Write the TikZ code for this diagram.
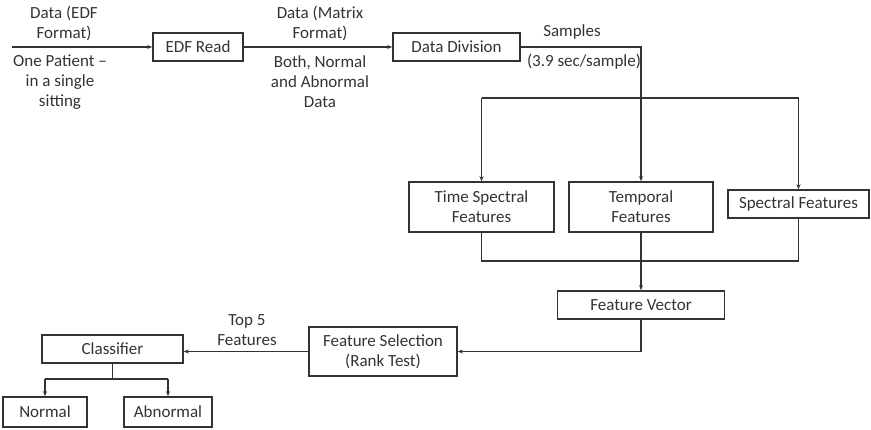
\documentclass[tikz,border=0pt]{standalone}
\usepackage{fontspec}
\setmainfont{Carlito}
\usetikzlibrary{arrows.meta}
\definecolor{ink}{HTML}{333333}
\begin{document}
\begin{tikzpicture}[x=1pt,y=-1pt,
  box/.style={draw=ink, line width=1.6pt, text=ink, inner sep=0pt, align=center,
    font=\fontsize{17}{20}\selectfont},
  lbl/.style={text=ink, inner sep=0pt, align=center, font=\fontsize{17}{20}\selectfont},
  conn/.style={draw=ink, line width=1.1pt},
  arr/.style={conn, -{Stealth[length=5pt,width=4pt]}}]
\useasboundingbox (0,0) rectangle (871,429);
% boxes
\node[box, minimum width=90pt, minimum height=28pt] (edf) at (198,47) {EDF Read};
\node[box, minimum width=127pt, minimum height=28pt] (div) at (456.5,47) {Data Division};
\node[box, minimum width=145pt, minimum height=50pt] (tsf) at (481.5,207) {Time Spectral\\Features};
\node[box, minimum width=144pt, minimum height=50pt] (tf) at (641,207) {Temporal\\Features};
\node[box, minimum width=141pt, minimum height=28pt] (sf) at (798.5,204) {Spectral Features};
\node[box, minimum width=167pt, minimum height=28pt] (fv) at (641,305) {Feature Vector};
\node[box, minimum width=148pt, minimum height=49pt] (fs) at (383,351.5) {Feature Selection\\(Rank Test)};
\node[box, minimum width=141pt, minimum height=28pt] (cls) at (112.5,349) {Classifier};
\node[box, minimum width=84pt, minimum height=30pt] (nor) at (45,412) {Normal};
\node[box, minimum width=88pt, minimum height=30pt] (abn) at (168,412) {Abnormal};
% labels
\node[lbl] (l1) at (64,23) {Data (EDF\\Format)};
\node[lbl] (l2) at (60,82) {One Patient –\\in a single\\sitting};
\node[lbl] (l3) at (320,23) {Data (Matrix\\Format)};
\node[lbl] (l4) at (320,82) {Both, Normal\\and Abnormal\\Data};
\node[lbl] (l5) at (572,32) {Samples};
\node[lbl] (l6) at (584,62) {(3.9 sec/sample)};
\node[lbl] (l7) at (247,330) {Top 5\\Features};
% coordinates
\coordinate (in) at (12,47);
\coordinate (busTop) at (641,98);
\coordinate (busBot) at (641,261);
\coordinate (clsBus) at (112.5,379);
% connectors
\draw[arr] (in) -- (edf.west);
\draw[arr] (edf.east) -- (div.west);
\draw[arr] (div.east) -| (tf.north);
\draw[conn] (tsf.north |- busTop) -- (sf.north |- busTop);
\draw[arr] (tsf.north |- busTop) -- (tsf.north);
\draw[arr] (sf.north |- busTop) -- (sf.north);
\draw[conn] (tsf.south) -- (tsf.south |- busBot) -- (sf.south |- busBot) -- (sf.south);
\draw[arr] (tf.south) -- (fv.north);
\draw[arr] (fv.south) |- (fs.east);
\draw[arr] (fs.west) -- (fs.west -| cls.east);
\draw[conn] (cls.south) -- (clsBus);
\draw[conn] (nor.north |- clsBus) -- (abn.north |- clsBus);
\draw[arr] (nor.north |- clsBus) -- (nor.north);
\draw[arr] (abn.north |- clsBus) -- (abn.north);
\end{tikzpicture}
\end{document}
